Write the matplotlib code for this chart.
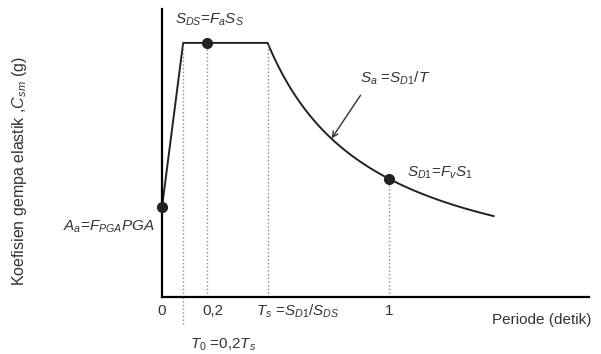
import numpy as np
import matplotlib.pyplot as plt

# spectrum parameters (SDS normalised to 1)
SDS = 1.0
SD1 = 0.465
PGA = 0.354
Ts = SD1 / SDS
T0 = 0.2 * Ts
T_end = 1.46

tick_pos = [0, 0.2, Ts, 1]
tick_lbl = ["0", "0,2", r"$T_s$ =$S_{D1}$/$S_{DS}$", "1"]
tick_shift = [0, 4, 22, 0]  # points, label nudge to the right


def main():
    plt.rcParams["font.family"] = ["Liberation Sans", "DejaVu Sans"]
    plt.rcParams["mathtext.fontset"] = "custom"
    plt.rcParams["mathtext.rm"] = "Liberation Sans"
    plt.rcParams["mathtext.it"] = "Liberation Sans:italic"

    fig = plt.figure(figsize=(6.01, 3.54), dpi=100)
    ax = fig.add_axes([0.2696, 0.161, 0.7104, 0.814])

    T_curve = np.linspace(Ts, T_end, 100)
    T = np.concatenate([[0, T0], T_curve])
    Sa = np.concatenate([[PGA, SDS], SD1 / T_curve])
    ax.plot(T, Sa, color="#222222", lw=1.4)

    # dotted guides
    for t, top in [(T0, SDS), (0.2, SDS), (Ts, SDS), (1, SD1)]:
        ax.plot([t, t], [0, top], ls=":", color="#888888", lw=1)
    ax.plot([T0, T0], [0, -0.11], ls=":", color="#888888", lw=1, clip_on=False)

    ax.plot([0, 0.2, 1], [PGA, SDS, SD1], "o", color="#222222", ms=7, clip_on=False, zorder=5)

    ax.set_xlim(0, 1.88)
    ax.set_ylim(0, 1.134)
    for s in ["top", "right"]:
        ax.spines[s].set_visible(False)
    ax.spines["left"].set_linewidth(1.6)
    ax.spines["bottom"].set_linewidth(1.6)
    ax.set_yticks([])
    ax.set_xticks([])

    fs = 11
    for t, lbl, dx in zip(tick_pos, tick_lbl, tick_shift):
        ax.annotate(lbl, xy=(t, 0), xytext=(dx, -10), textcoords="offset points",
                    ha="center", va="center", fontsize=fs, color="#333333", annotation_clip=False)

    ax.text(0.21, 1.09, r"$S_{DS}$=$F_aS_S$", ha="center", va="center", fontsize=fs, color="#333333")
    ax.text(-0.03, 0.275, r"$A_a$=$F_{PGA}PGA$", ha="right", va="center", fontsize=fs, color="#333333")
    ax.text(0.87, 0.86, r"$S_a$ =$S_{D1}$/$T$", ha="left", va="center", fontsize=fs, color="#333333")
    ax.text(1.08, 0.49, r"$S_{D1}$=$F_vS_1$", ha="left", va="center", fontsize=fs, color="#333333")
    ax.annotate("", xy=(0.74, 0.615), xytext=(0.881, 0.803),
                arrowprops=dict(arrowstyle="->", color="#333333", lw=1))
    ax.text(T0 + 0.03, -0.19, r"$T_0$ =0,2$T_s$", ha="left", va="center", fontsize=fs,
            color="#333333", clip_on=False)
    ax.text(1.89, -0.09, "Periode (detik)", ha="right", va="center", fontsize=fs, color="#333333")
    fig.text(0.032, 0.517, r"Koefisien gempa elastik ,$C_{sm}$ (g)", rotation=90,
             ha="center", va="center", fontsize=11.5, color="#333333")

    fig.savefig("out.png", dpi=100)


if __name__ == "__main__":
    main()
